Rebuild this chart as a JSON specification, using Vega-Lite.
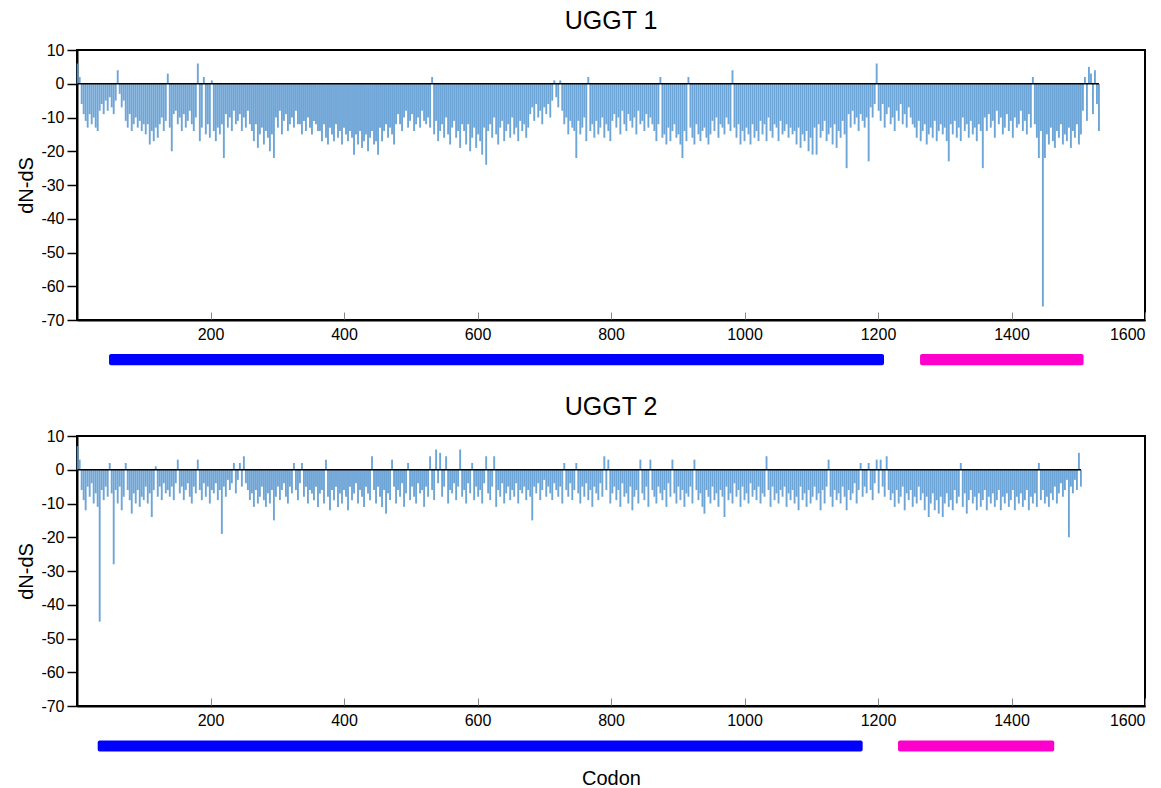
{
"$schema":"https://vega.github.io/schema/vega-lite/v6.json",
"background":"white",
"padding":{"left":15,"top":8,"right":12,"bottom":0},
"config":{"font":"Liberation Sans","view":{"stroke":"black","strokeWidth":2},"concat":{"spacing":27},
"axis":{"grid":false,"labelFont":"Liberation Sans","labelFontSize":16,"labelColor":"black","labelOverlap":false,"titleFont":"Liberation Sans","titleFontSize":20,"titleFontWeight":"normal","titleColor":"black","domainColor":"black","domainWidth":2},
"axisY":{"labelOverlap":false},
"title":{"font":"Liberation Sans","fontSize":25,"fontWeight":"normal","color":"black","offset":8}},
"datasets":{
"u1":[{"c":1,"v":6},{"c":4,"v":2},{"c":7,"v":-6},{"c":10,"v":-9},{"c":13,"v":-11},{"c":16,"v":-13},{"c":19,"v":-9},{"c":22,"v":-12},{"c":25,"v":-10},{"c":28,"v":-13},{"c":31,"v":-14},{"c":34,"v":-8},{"c":37,"v":-6},{"c":40,"v":-9},{"c":43,"v":-5},{"c":46,"v":-8},{"c":49,"v":-4},{"c":52,"v":-7},{"c":55,"v":-9},{"c":58,"v":-5},{"c":61,"v":4},{"c":64,"v":-3},{"c":67,"v":-7},{"c":70,"v":-5},{"c":73,"v":-11},{"c":76,"v":-13},{"c":79,"v":-9},{"c":82,"v":-14},{"c":85,"v":-12},{"c":88,"v":-10},{"c":91,"v":-13},{"c":94,"v":-11},{"c":97,"v":-14},{"c":100,"v":-12},{"c":103,"v":-15},{"c":106,"v":-12},{"c":109,"v":-18},{"c":112,"v":-14},{"c":115,"v":-17},{"c":118,"v":-13},{"c":121,"v":-16},{"c":124,"v":-12},{"c":127,"v":-10},{"c":130,"v":-14},{"c":133,"v":-11},{"c":136,"v":3},{"c":139,"v":-13},{"c":142,"v":-20},{"c":145,"v":-9},{"c":148,"v":-8},{"c":151,"v":-12},{"c":154,"v":-10},{"c":157,"v":-14},{"c":160,"v":-9},{"c":163,"v":-13},{"c":166,"v":-11},{"c":169,"v":-8},{"c":172,"v":-12},{"c":175,"v":-14},{"c":178,"v":-10},{"c":181,"v":6},{"c":184,"v":-17},{"c":187,"v":-13},{"c":190,"v":2},{"c":193,"v":-15},{"c":196,"v":-12},{"c":199,"v":-16},{"c":202,"v":1},{"c":205,"v":-14},{"c":208,"v":-17},{"c":211,"v":-13},{"c":214,"v":-15},{"c":217,"v":-12},{"c":220,"v":-22},{"c":223,"v":-9},{"c":226,"v":-13},{"c":229,"v":-10},{"c":232,"v":-14},{"c":235,"v":-8},{"c":238,"v":-12},{"c":241,"v":-11},{"c":244,"v":-9},{"c":247,"v":-14},{"c":250,"v":-10},{"c":253,"v":-13},{"c":256,"v":-8},{"c":259,"v":-12},{"c":262,"v":-14},{"c":265,"v":-17},{"c":268,"v":-12},{"c":271,"v":-19},{"c":274,"v":-15},{"c":277,"v":-13},{"c":280,"v":-18},{"c":283,"v":-14},{"c":286,"v":-16},{"c":289,"v":-20},{"c":292,"v":-15},{"c":295,"v":-22},{"c":298,"v":-10},{"c":301,"v":-13},{"c":304,"v":-8},{"c":307,"v":-15},{"c":310,"v":-11},{"c":313,"v":-9},{"c":316,"v":-14},{"c":319,"v":-12},{"c":322,"v":-10},{"c":325,"v":-13},{"c":328,"v":-8},{"c":331,"v":-12},{"c":334,"v":-12},{"c":337,"v":-15},{"c":340,"v":-11},{"c":343,"v":-14},{"c":346,"v":-10},{"c":349,"v":-13},{"c":352,"v":-15},{"c":355,"v":-11},{"c":358,"v":-12},{"c":361,"v":-14},{"c":364,"v":-14},{"c":367,"v":-17},{"c":370,"v":-12},{"c":373,"v":-16},{"c":376,"v":-18},{"c":379,"v":-13},{"c":382,"v":-15},{"c":385,"v":-17},{"c":388,"v":-12},{"c":391,"v":-16},{"c":394,"v":-14},{"c":397,"v":-18},{"c":400,"v":-13},{"c":403,"v":-15},{"c":406,"v":-17},{"c":409,"v":-14},{"c":412,"v":-16},{"c":415,"v":-21},{"c":418,"v":-15},{"c":421,"v":-18},{"c":424,"v":-14},{"c":427,"v":-19},{"c":430,"v":-17},{"c":433,"v":-15},{"c":436,"v":-20},{"c":439,"v":-16},{"c":442,"v":-14},{"c":445,"v":-18},{"c":448,"v":-17},{"c":451,"v":-21},{"c":454,"v":-13},{"c":457,"v":-17},{"c":460,"v":-14},{"c":463,"v":-12},{"c":466,"v":-16},{"c":469,"v":-13},{"c":472,"v":-15},{"c":475,"v":-18},{"c":478,"v":-12},{"c":481,"v":-9},{"c":484,"v":-12},{"c":487,"v":-14},{"c":490,"v":-10},{"c":493,"v":-8},{"c":496,"v":-13},{"c":499,"v":-11},{"c":502,"v":-9},{"c":505,"v":-14},{"c":508,"v":-12},{"c":511,"v":-10},{"c":514,"v":-13},{"c":517,"v":-8},{"c":520,"v":-11},{"c":523,"v":-12},{"c":526,"v":-10},{"c":529,"v":-13},{"c":532,"v":2},{"c":535,"v":-15},{"c":538,"v":-11},{"c":541,"v":-17},{"c":544,"v":-14},{"c":547,"v":-12},{"c":550,"v":-16},{"c":553,"v":-10},{"c":556,"v":-15},{"c":559,"v":-18},{"c":562,"v":-13},{"c":565,"v":-11},{"c":568,"v":-16},{"c":571,"v":-14},{"c":574,"v":-19},{"c":577,"v":-12},{"c":580,"v":-14},{"c":583,"v":-18},{"c":586,"v":-12},{"c":589,"v":-20},{"c":592,"v":-16},{"c":595,"v":-13},{"c":598,"v":-19},{"c":601,"v":-15},{"c":604,"v":-17},{"c":607,"v":-21},{"c":610,"v":-13},{"c":613,"v":-24},{"c":616,"v":-14},{"c":619,"v":-12},{"c":622,"v":-16},{"c":625,"v":-10},{"c":628,"v":-15},{"c":631,"v":-18},{"c":634,"v":-13},{"c":637,"v":-11},{"c":640,"v":-17},{"c":643,"v":-14},{"c":646,"v":-12},{"c":649,"v":-16},{"c":652,"v":-10},{"c":655,"v":-15},{"c":658,"v":-13},{"c":661,"v":-17},{"c":664,"v":-11},{"c":667,"v":-14},{"c":670,"v":-12},{"c":673,"v":-16},{"c":676,"v":-13},{"c":679,"v":-9},{"c":682,"v":-7},{"c":685,"v":-11},{"c":688,"v":-6},{"c":691,"v":-10},{"c":694,"v":-8},{"c":697,"v":-12},{"c":700,"v":-7},{"c":703,"v":-9},{"c":706,"v":-6},{"c":709,"v":-10},{"c":712,"v":-5},{"c":715,"v":1},{"c":718,"v":-4},{"c":721,"v":-7},{"c":724,"v":1},{"c":727,"v":-8},{"c":730,"v":-12},{"c":733,"v":-10},{"c":736,"v":-15},{"c":739,"v":-11},{"c":742,"v":-13},{"c":745,"v":-14},{"c":748,"v":-22},{"c":751,"v":-11},{"c":754,"v":-15},{"c":757,"v":-13},{"c":760,"v":-10},{"c":763,"v":-17},{"c":766,"v":2},{"c":769,"v":-14},{"c":772,"v":-12},{"c":775,"v":-16},{"c":778,"v":-11},{"c":781,"v":-15},{"c":784,"v":-13},{"c":787,"v":-10},{"c":790,"v":-16},{"c":793,"v":-12},{"c":796,"v":-14},{"c":799,"v":-17},{"c":802,"v":-11},{"c":805,"v":-9},{"c":808,"v":-13},{"c":811,"v":-10},{"c":814,"v":-15},{"c":817,"v":-8},{"c":820,"v":-12},{"c":823,"v":-14},{"c":826,"v":-9},{"c":829,"v":-11},{"c":832,"v":-13},{"c":835,"v":-10},{"c":838,"v":-15},{"c":841,"v":-8},{"c":844,"v":-12},{"c":847,"v":-11},{"c":850,"v":-14},{"c":853,"v":-9},{"c":856,"v":-13},{"c":859,"v":-10},{"c":862,"v":-12},{"c":865,"v":-14},{"c":868,"v":-17},{"c":871,"v":-12},{"c":874,"v":2},{"c":877,"v":-16},{"c":880,"v":-15},{"c":883,"v":-18},{"c":886,"v":-13},{"c":889,"v":-17},{"c":892,"v":-14},{"c":895,"v":-12},{"c":898,"v":-16},{"c":901,"v":-15},{"c":904,"v":-18},{"c":907,"v":-22},{"c":910,"v":-14},{"c":913,"v":-17},{"c":916,"v":2},{"c":919,"v":-13},{"c":922,"v":-16},{"c":925,"v":-18},{"c":928,"v":-12},{"c":931,"v":-15},{"c":934,"v":-17},{"c":937,"v":-14},{"c":940,"v":-13},{"c":943,"v":-16},{"c":946,"v":-18},{"c":949,"v":-15},{"c":952,"v":-11},{"c":955,"v":-14},{"c":958,"v":-10},{"c":961,"v":-16},{"c":964,"v":-12},{"c":967,"v":-13},{"c":970,"v":-15},{"c":973,"v":-10},{"c":976,"v":-12},{"c":979,"v":-14},{"c":982,"v":4},{"c":985,"v":-13},{"c":988,"v":-16},{"c":991,"v":-12},{"c":994,"v":-18},{"c":997,"v":-14},{"c":1000,"v":-17},{"c":1003,"v":-13},{"c":1006,"v":-15},{"c":1009,"v":-18},{"c":1012,"v":-12},{"c":1015,"v":-16},{"c":1018,"v":-14},{"c":1021,"v":-17},{"c":1024,"v":-11},{"c":1027,"v":-15},{"c":1030,"v":-12},{"c":1033,"v":-17},{"c":1036,"v":-10},{"c":1039,"v":-14},{"c":1042,"v":-16},{"c":1045,"v":-12},{"c":1048,"v":-13},{"c":1051,"v":-17},{"c":1054,"v":-11},{"c":1057,"v":-15},{"c":1060,"v":-14},{"c":1063,"v":-12},{"c":1066,"v":-16},{"c":1069,"v":-13},{"c":1072,"v":-15},{"c":1075,"v":-14},{"c":1078,"v":-18},{"c":1081,"v":-13},{"c":1084,"v":-19},{"c":1087,"v":-15},{"c":1090,"v":-17},{"c":1093,"v":-14},{"c":1096,"v":-20},{"c":1099,"v":-16},{"c":1102,"v":-21},{"c":1105,"v":-13},{"c":1108,"v":-21},{"c":1111,"v":-12},{"c":1114,"v":-16},{"c":1117,"v":-14},{"c":1120,"v":-11},{"c":1123,"v":-17},{"c":1126,"v":-15},{"c":1129,"v":-13},{"c":1132,"v":-18},{"c":1135,"v":-12},{"c":1138,"v":-19},{"c":1141,"v":-14},{"c":1144,"v":-16},{"c":1147,"v":-11},{"c":1150,"v":-15},{"c":1153,"v":-25},{"c":1156,"v":-9},{"c":1159,"v":-13},{"c":1162,"v":-8},{"c":1165,"v":-12},{"c":1168,"v":-10},{"c":1171,"v":-14},{"c":1174,"v":-9},{"c":1177,"v":-11},{"c":1180,"v":-13},{"c":1183,"v":-10},{"c":1186,"v":-23},{"c":1189,"v":-7},{"c":1192,"v":-10},{"c":1195,"v":-6},{"c":1198,"v":6},{"c":1201,"v":-8},{"c":1204,"v":-11},{"c":1207,"v":-6},{"c":1210,"v":-13},{"c":1213,"v":-9},{"c":1216,"v":-7},{"c":1219,"v":-12},{"c":1222,"v":-10},{"c":1225,"v":-14},{"c":1228,"v":-8},{"c":1231,"v":-11},{"c":1234,"v":-6},{"c":1237,"v":-12},{"c":1240,"v":-9},{"c":1243,"v":-13},{"c":1246,"v":-7},{"c":1249,"v":-10},{"c":1252,"v":-12},{"c":1255,"v":-13},{"c":1258,"v":-16},{"c":1261,"v":-11},{"c":1264,"v":-17},{"c":1267,"v":-14},{"c":1270,"v":-12},{"c":1273,"v":-18},{"c":1276,"v":-15},{"c":1279,"v":-13},{"c":1282,"v":-16},{"c":1285,"v":-11},{"c":1288,"v":-17},{"c":1291,"v":-14},{"c":1294,"v":-12},{"c":1297,"v":-15},{"c":1300,"v":-13},{"c":1303,"v":-17},{"c":1306,"v":-23},{"c":1309,"v":-12},{"c":1312,"v":-15},{"c":1315,"v":-11},{"c":1318,"v":-16},{"c":1321,"v":-13},{"c":1324,"v":-17},{"c":1327,"v":-10},{"c":1330,"v":-14},{"c":1333,"v":-12},{"c":1336,"v":-16},{"c":1339,"v":-11},{"c":1342,"v":-15},{"c":1345,"v":-13},{"c":1348,"v":-17},{"c":1351,"v":-12},{"c":1354,"v":-14},{"c":1357,"v":-25},{"c":1360,"v":-10},{"c":1363,"v":-14},{"c":1366,"v":-9},{"c":1369,"v":-13},{"c":1372,"v":-11},{"c":1375,"v":-16},{"c":1378,"v":-8},{"c":1381,"v":-12},{"c":1384,"v":-10},{"c":1387,"v":-15},{"c":1390,"v":-13},{"c":1393,"v":-9},{"c":1396,"v":-14},{"c":1399,"v":-11},{"c":1402,"v":-16},{"c":1405,"v":-10},{"c":1408,"v":-13},{"c":1411,"v":-12},{"c":1414,"v":-8},{"c":1417,"v":-14},{"c":1420,"v":-11},{"c":1423,"v":-15},{"c":1426,"v":-9},{"c":1429,"v":-13},{"c":1432,"v":2},{"c":1435,"v":-12},{"c":1438,"v":-16},{"c":1441,"v":-22},{"c":1444,"v":-14},{"c":1447,"v":-66},{"c":1450,"v":-22},{"c":1453,"v":-15},{"c":1456,"v":-18},{"c":1459,"v":-13},{"c":1462,"v":-17},{"c":1465,"v":-19},{"c":1468,"v":-14},{"c":1471,"v":-16},{"c":1474,"v":-12},{"c":1477,"v":-18},{"c":1480,"v":-15},{"c":1483,"v":-17},{"c":1486,"v":-13},{"c":1489,"v":-19},{"c":1492,"v":-14},{"c":1495,"v":-16},{"c":1498,"v":-12},{"c":1501,"v":-18},{"c":1504,"v":-15},{"c":1507,"v":-8},{"c":1510,"v":2},{"c":1513,"v":-11},{"c":1516,"v":5},{"c":1519,"v":3},{"c":1522,"v":-9},{"c":1525,"v":4},{"c":1528,"v":-6},{"c":1531,"v":-14}],
"u2":[{"c":1,"v":7},{"c":4,"v":3},{"c":7,"v":-6},{"c":10,"v":-9},{"c":13,"v":-12},{"c":16,"v":-5},{"c":19,"v":-8},{"c":22,"v":-4},{"c":25,"v":-10},{"c":28,"v":-7},{"c":31,"v":-11},{"c":34,"v":-45},{"c":37,"v":-6},{"c":40,"v":-9},{"c":43,"v":-5},{"c":46,"v":-8},{"c":49,"v":2},{"c":52,"v":-7},{"c":55,"v":-28},{"c":58,"v":-6},{"c":61,"v":-10},{"c":64,"v":-5},{"c":67,"v":-12},{"c":70,"v":-8},{"c":73,"v":2},{"c":76,"v":-6},{"c":79,"v":-9},{"c":82,"v":-13},{"c":85,"v":-7},{"c":88,"v":-10},{"c":91,"v":-6},{"c":94,"v":-11},{"c":97,"v":-8},{"c":100,"v":-9},{"c":103,"v":-5},{"c":106,"v":-10},{"c":109,"v":-7},{"c":112,"v":-14},{"c":115,"v":-6},{"c":118,"v":1},{"c":121,"v":-8},{"c":124,"v":-5},{"c":127,"v":-9},{"c":130,"v":-4},{"c":133,"v":-7},{"c":136,"v":-6},{"c":139,"v":-8},{"c":142,"v":-5},{"c":145,"v":-9},{"c":148,"v":-4},{"c":151,"v":3},{"c":154,"v":-7},{"c":157,"v":-5},{"c":160,"v":-9},{"c":163,"v":-6},{"c":166,"v":-4},{"c":169,"v":-8},{"c":172,"v":-10},{"c":175,"v":-5},{"c":178,"v":-7},{"c":181,"v":3},{"c":184,"v":-6},{"c":187,"v":-9},{"c":190,"v":-4},{"c":193,"v":-8},{"c":196,"v":-5},{"c":199,"v":-10},{"c":202,"v":-6},{"c":205,"v":-7},{"c":208,"v":-4},{"c":211,"v":-9},{"c":214,"v":-6},{"c":217,"v":-19},{"c":220,"v":-5},{"c":223,"v":-8},{"c":226,"v":-3},{"c":229,"v":-6},{"c":232,"v":-4},{"c":235,"v":2},{"c":238,"v":-7},{"c":241,"v":-3},{"c":244,"v":2},{"c":247,"v":-5},{"c":250,"v":4},{"c":253,"v":-4},{"c":256,"v":-6},{"c":259,"v":-9},{"c":262,"v":-7},{"c":265,"v":-11},{"c":268,"v":-6},{"c":271,"v":-10},{"c":274,"v":-8},{"c":277,"v":-5},{"c":280,"v":-9},{"c":283,"v":-11},{"c":286,"v":-7},{"c":289,"v":-10},{"c":292,"v":-6},{"c":295,"v":-15},{"c":298,"v":-8},{"c":301,"v":-5},{"c":304,"v":-9},{"c":307,"v":-6},{"c":310,"v":-4},{"c":313,"v":-8},{"c":316,"v":-10},{"c":319,"v":-5},{"c":322,"v":-7},{"c":325,"v":2},{"c":328,"v":-6},{"c":331,"v":-9},{"c":334,"v":-4},{"c":337,"v":2},{"c":340,"v":-8},{"c":343,"v":-5},{"c":346,"v":-10},{"c":349,"v":-6},{"c":352,"v":-7},{"c":355,"v":-9},{"c":358,"v":-5},{"c":361,"v":-11},{"c":364,"v":-7},{"c":367,"v":-6},{"c":370,"v":-10},{"c":373,"v":3},{"c":376,"v":-8},{"c":379,"v":-12},{"c":382,"v":-6},{"c":385,"v":-9},{"c":388,"v":-5},{"c":391,"v":-11},{"c":394,"v":-7},{"c":397,"v":-10},{"c":400,"v":-6},{"c":403,"v":-8},{"c":406,"v":-12},{"c":409,"v":-5},{"c":412,"v":-9},{"c":415,"v":-7},{"c":418,"v":-4},{"c":421,"v":-10},{"c":424,"v":-6},{"c":427,"v":-8},{"c":430,"v":-11},{"c":433,"v":-5},{"c":436,"v":-7},{"c":439,"v":-9},{"c":442,"v":4},{"c":445,"v":-6},{"c":448,"v":-10},{"c":451,"v":-5},{"c":454,"v":-8},{"c":457,"v":-11},{"c":460,"v":-6},{"c":463,"v":-13},{"c":466,"v":-7},{"c":469,"v":-9},{"c":472,"v":3},{"c":475,"v":-5},{"c":478,"v":-10},{"c":481,"v":-6},{"c":484,"v":-8},{"c":487,"v":-4},{"c":490,"v":-11},{"c":493,"v":-7},{"c":496,"v":2},{"c":499,"v":-9},{"c":502,"v":-5},{"c":505,"v":-8},{"c":508,"v":-10},{"c":511,"v":-4},{"c":514,"v":-7},{"c":517,"v":-6},{"c":520,"v":-11},{"c":523,"v":-5},{"c":526,"v":-8},{"c":529,"v":4},{"c":532,"v":-6},{"c":535,"v":-9},{"c":538,"v":6},{"c":541,"v":-4},{"c":544,"v":5},{"c":547,"v":-8},{"c":550,"v":-5},{"c":553,"v":4},{"c":556,"v":-10},{"c":559,"v":-6},{"c":562,"v":-7},{"c":565,"v":-4},{"c":568,"v":-9},{"c":571,"v":-5},{"c":574,"v":6},{"c":577,"v":-8},{"c":580,"v":-6},{"c":583,"v":-10},{"c":586,"v":-4},{"c":589,"v":-7},{"c":592,"v":2},{"c":595,"v":-9},{"c":598,"v":-5},{"c":601,"v":-8},{"c":604,"v":-6},{"c":607,"v":-10},{"c":610,"v":-4},{"c":613,"v":4},{"c":616,"v":-7},{"c":619,"v":-9},{"c":622,"v":-5},{"c":625,"v":4},{"c":628,"v":-11},{"c":631,"v":-6},{"c":634,"v":-8},{"c":637,"v":-4},{"c":640,"v":-10},{"c":643,"v":-7},{"c":646,"v":-5},{"c":649,"v":-9},{"c":652,"v":-6},{"c":655,"v":-8},{"c":658,"v":-4},{"c":661,"v":-10},{"c":664,"v":-6},{"c":667,"v":-7},{"c":670,"v":-5},{"c":673,"v":-9},{"c":676,"v":-6},{"c":679,"v":-8},{"c":682,"v":-15},{"c":685,"v":-5},{"c":688,"v":-7},{"c":691,"v":-4},{"c":694,"v":-9},{"c":697,"v":-6},{"c":700,"v":-3},{"c":703,"v":-8},{"c":706,"v":-5},{"c":709,"v":-7},{"c":712,"v":-9},{"c":715,"v":-4},{"c":718,"v":-6},{"c":721,"v":-8},{"c":724,"v":-5},{"c":727,"v":-10},{"c":730,"v":2},{"c":733,"v":-6},{"c":736,"v":-8},{"c":739,"v":-4},{"c":742,"v":-9},{"c":745,"v":-6},{"c":748,"v":2},{"c":751,"v":-7},{"c":754,"v":-10},{"c":757,"v":-5},{"c":760,"v":-8},{"c":763,"v":-4},{"c":766,"v":-9},{"c":769,"v":-6},{"c":772,"v":-11},{"c":775,"v":-5},{"c":778,"v":-7},{"c":781,"v":-9},{"c":784,"v":-4},{"c":787,"v":-8},{"c":790,"v":4},{"c":793,"v":-6},{"c":796,"v":3},{"c":799,"v":-10},{"c":802,"v":-7},{"c":805,"v":-5},{"c":808,"v":-9},{"c":811,"v":-6},{"c":814,"v":-11},{"c":817,"v":-4},{"c":820,"v":-8},{"c":823,"v":-7},{"c":826,"v":-10},{"c":829,"v":-5},{"c":832,"v":-12},{"c":835,"v":-8},{"c":838,"v":-6},{"c":841,"v":-10},{"c":844,"v":3},{"c":847,"v":-7},{"c":850,"v":-9},{"c":853,"v":-5},{"c":856,"v":-11},{"c":859,"v":3},{"c":862,"v":-6},{"c":865,"v":-8},{"c":868,"v":-10},{"c":871,"v":-5},{"c":874,"v":-7},{"c":877,"v":-9},{"c":880,"v":-6},{"c":883,"v":-11},{"c":886,"v":-4},{"c":889,"v":-8},{"c":892,"v":3},{"c":895,"v":-7},{"c":898,"v":-10},{"c":901,"v":-5},{"c":904,"v":-9},{"c":907,"v":-6},{"c":910,"v":-11},{"c":913,"v":-7},{"c":916,"v":-8},{"c":919,"v":-5},{"c":922,"v":-10},{"c":925,"v":3},{"c":928,"v":-6},{"c":931,"v":-9},{"c":934,"v":-7},{"c":937,"v":-11},{"c":940,"v":-13},{"c":943,"v":-6},{"c":946,"v":-8},{"c":949,"v":-10},{"c":952,"v":-5},{"c":955,"v":-9},{"c":958,"v":-7},{"c":961,"v":-11},{"c":964,"v":-6},{"c":967,"v":-8},{"c":970,"v":-14},{"c":973,"v":-5},{"c":976,"v":-9},{"c":979,"v":-7},{"c":982,"v":-10},{"c":985,"v":-4},{"c":988,"v":-8},{"c":991,"v":-6},{"c":994,"v":-11},{"c":997,"v":-5},{"c":1000,"v":-9},{"c":1003,"v":-7},{"c":1006,"v":-10},{"c":1009,"v":-4},{"c":1012,"v":-8},{"c":1015,"v":-6},{"c":1018,"v":-9},{"c":1021,"v":-5},{"c":1024,"v":-10},{"c":1027,"v":-7},{"c":1030,"v":-8},{"c":1033,"v":4},{"c":1036,"v":-6},{"c":1039,"v":-11},{"c":1042,"v":-5},{"c":1045,"v":-9},{"c":1048,"v":-7},{"c":1051,"v":-10},{"c":1054,"v":-6},{"c":1057,"v":-8},{"c":1060,"v":-5},{"c":1063,"v":-11},{"c":1066,"v":-7},{"c":1069,"v":-9},{"c":1072,"v":-6},{"c":1075,"v":-10},{"c":1078,"v":-8},{"c":1081,"v":-12},{"c":1084,"v":-5},{"c":1087,"v":-9},{"c":1090,"v":-7},{"c":1093,"v":-11},{"c":1096,"v":-6},{"c":1099,"v":-10},{"c":1102,"v":-8},{"c":1105,"v":-5},{"c":1108,"v":-9},{"c":1111,"v":-7},{"c":1114,"v":-12},{"c":1117,"v":-6},{"c":1120,"v":-10},{"c":1123,"v":-5},{"c":1126,"v":3},{"c":1129,"v":-8},{"c":1132,"v":-11},{"c":1135,"v":-6},{"c":1138,"v":-9},{"c":1141,"v":-7},{"c":1144,"v":-10},{"c":1147,"v":-5},{"c":1150,"v":-8},{"c":1153,"v":-12},{"c":1156,"v":-6},{"c":1159,"v":-9},{"c":1162,"v":-7},{"c":1165,"v":-4},{"c":1168,"v":-10},{"c":1171,"v":-6},{"c":1174,"v":2},{"c":1177,"v":-8},{"c":1180,"v":-5},{"c":1183,"v":-7},{"c":1186,"v":2},{"c":1189,"v":-6},{"c":1192,"v":-9},{"c":1195,"v":-4},{"c":1198,"v":3},{"c":1201,"v":-7},{"c":1204,"v":3},{"c":1207,"v":-5},{"c":1210,"v":-8},{"c":1213,"v":4},{"c":1216,"v":-6},{"c":1219,"v":-9},{"c":1222,"v":-7},{"c":1225,"v":-11},{"c":1228,"v":-6},{"c":1231,"v":-10},{"c":1234,"v":-8},{"c":1237,"v":-5},{"c":1240,"v":-12},{"c":1243,"v":-7},{"c":1246,"v":-9},{"c":1249,"v":-6},{"c":1252,"v":-11},{"c":1255,"v":-8},{"c":1258,"v":-10},{"c":1261,"v":-5},{"c":1264,"v":-9},{"c":1267,"v":-7},{"c":1270,"v":-12},{"c":1273,"v":-8},{"c":1276,"v":-14},{"c":1279,"v":-10},{"c":1282,"v":-7},{"c":1285,"v":-12},{"c":1288,"v":-9},{"c":1291,"v":-13},{"c":1294,"v":-8},{"c":1297,"v":-14},{"c":1300,"v":-10},{"c":1303,"v":-7},{"c":1306,"v":-11},{"c":1309,"v":-9},{"c":1312,"v":-12},{"c":1315,"v":-6},{"c":1318,"v":-10},{"c":1321,"v":-8},{"c":1324,"v":2},{"c":1327,"v":-11},{"c":1330,"v":-7},{"c":1333,"v":-13},{"c":1336,"v":-9},{"c":1339,"v":-6},{"c":1342,"v":-10},{"c":1345,"v":-8},{"c":1348,"v":-12},{"c":1351,"v":-7},{"c":1354,"v":-11},{"c":1357,"v":-9},{"c":1360,"v":-6},{"c":1363,"v":-12},{"c":1366,"v":-8},{"c":1369,"v":-10},{"c":1372,"v":-7},{"c":1375,"v":-11},{"c":1378,"v":-9},{"c":1381,"v":-6},{"c":1384,"v":-12},{"c":1387,"v":-8},{"c":1390,"v":-10},{"c":1393,"v":-7},{"c":1396,"v":-11},{"c":1399,"v":-9},{"c":1402,"v":-6},{"c":1405,"v":-12},{"c":1408,"v":-8},{"c":1411,"v":-10},{"c":1414,"v":-7},{"c":1417,"v":-11},{"c":1420,"v":-9},{"c":1423,"v":-6},{"c":1426,"v":-12},{"c":1429,"v":-8},{"c":1432,"v":-10},{"c":1435,"v":-7},{"c":1438,"v":-11},{"c":1441,"v":2},{"c":1444,"v":-9},{"c":1447,"v":-6},{"c":1450,"v":-10},{"c":1453,"v":-8},{"c":1456,"v":-11},{"c":1459,"v":-7},{"c":1462,"v":-9},{"c":1465,"v":-5},{"c":1468,"v":-10},{"c":1471,"v":-7},{"c":1474,"v":-4},{"c":1477,"v":-8},{"c":1480,"v":-6},{"c":1483,"v":-3},{"c":1486,"v":-20},{"c":1489,"v":-5},{"c":1492,"v":-7},{"c":1495,"v":-3},{"c":1498,"v":-6},{"c":1501,"v":5},{"c":1504,"v":-5}],
"d1":[{"s":48,"e":1209,"dom":"Folding sensor"},{"s":1263,"e":1508,"dom":"Glucosyltransferase"}],
"d2":[{"s":31,"e":1177,"dom":"Folding sensor"},{"s":1230,"e":1464,"dom":"Glucosyltransferase"}]
},
"vconcat":[
{"title":{"text":"UGGT 1"},"width":1068,"height":270,
"layer":[
{"data":{"name":"u1"},"mark":{"type":"rule","stroke":"#5a98d2","strokeWidth":1.9,"opacity":0.88},
"encoding":{"x":{"field":"c","type":"quantitative","title":null,"scale":{"domain":[0,1600],"nice":false,"zero":false},"axis":{"values":[200,400,600,800,1000,1200,1400,1600],"labelExpr":"'' + datum.value","labelFontSize":16,"labelOverlap":false,"tickColor":"#888888","tickSize":-8,"labelPadding":14}},
"y":{"field":"v","type":"quantitative","title":"dN-dS","scale":{"domain":[-70,10],"nice":false},"axis":{"values":[10,0,-10,-20,-30,-40,-50,-60,-70],"labelExpr":"'' + datum.value","labelFontSize":16,"labelOverlap":false,"labelBound":false,"tickColor":"black","tickSize":10,"tickWidth":1.5,"labelPadding":3,"titlePadding":4,"titleFontSize":20}},
"y2":{"datum":0}}},
{"data":{"name":"u1"},"mark":{"type":"rule","color":"black","strokeWidth":1.6},
"encoding":{"x":{"aggregate":"min","field":"c","type":"quantitative","title":null,"scale":{"domain":[0,1600]},"axis":{"values":[200,400,600,800,1000,1200,1400,1600],"labelExpr":"'' + datum.value","labelFontSize":16,"labelOverlap":false,"tickColor":"#888888","tickSize":-8,"labelPadding":14}},"x2":{"aggregate":"max","field":"c"},"y":{"datum":0,"type":"quantitative","title":"dN-dS","scale":{"domain":[-70,10]},"axis":{"values":[10,0,-10,-20,-30,-40,-50,-60,-70],"labelExpr":"'' + datum.value","labelFontSize":16,"labelOverlap":false,"labelBound":false,"tickColor":"black","tickSize":10,"tickWidth":1.5,"labelPadding":3,"titlePadding":4,"titleFontSize":20}}}},
{"data":{"name":"d1"},"mark":{"type":"rect","cornerRadius":2},
"encoding":{"x":{"field":"s","type":"quantitative","title":null,"scale":{"domain":[0,1600]},"axis":{"values":[200,400,600,800,1000,1200,1400,1600],"labelExpr":"'' + datum.value","labelFontSize":16,"labelOverlap":false,"tickColor":"#888888","tickSize":-8,"labelPadding":14}},"x2":{"field":"e"},"y":{"datum":-80.1,"type":"quantitative","title":"dN-dS","scale":{"domain":[-70,10]},"axis":{"values":[10,0,-10,-20,-30,-40,-50,-60,-70],"labelExpr":"'' + datum.value","labelFontSize":16,"labelOverlap":false,"labelBound":false,"tickColor":"black","tickSize":10,"tickWidth":1.5,"labelPadding":3,"titlePadding":4,"titleFontSize":20}},"y2":{"datum":-83.4},
"color":{"field":"dom","type":"nominal","scale":{"domain":["Folding sensor","Glucosyltransferase"],"range":["#0000ff","#ff00cc"]},"legend":null}}}
]},
{"title":{"text":"UGGT 2"},"width":1068,"height":270,
"layer":[
{"data":{"name":"u2"},"mark":{"type":"rule","stroke":"#5a98d2","strokeWidth":1.9,"opacity":0.88},
"encoding":{"x":{"field":"c","type":"quantitative","title":"Codon","scale":{"domain":[0,1600],"nice":false,"zero":false},"axis":{"values":[200,400,600,800,1000,1200,1400,1600],"labelExpr":"'' + datum.value","labelFontSize":16,"labelOverlap":false,"tickColor":"#888888","tickSize":-8,"labelPadding":14,"titlePadding":40,"titleFontSize":20}},
"y":{"field":"v","type":"quantitative","title":"dN-dS","scale":{"domain":[-70,10],"nice":false},"axis":{"values":[10,0,-10,-20,-30,-40,-50,-60,-70],"labelExpr":"'' + datum.value","labelFontSize":16,"labelOverlap":false,"labelBound":false,"tickColor":"black","tickSize":10,"tickWidth":1.5,"labelPadding":3,"titlePadding":4,"titleFontSize":20}},
"y2":{"datum":0}}},
{"data":{"name":"u2"},"mark":{"type":"rule","color":"black","strokeWidth":1.6},
"encoding":{"x":{"aggregate":"min","field":"c","type":"quantitative","title":"Codon","scale":{"domain":[0,1600]},"axis":{"values":[200,400,600,800,1000,1200,1400,1600],"labelExpr":"'' + datum.value","labelFontSize":16,"labelOverlap":false,"tickColor":"#888888","tickSize":-8,"labelPadding":14,"titlePadding":40,"titleFontSize":20}},"x2":{"aggregate":"max","field":"c"},"y":{"datum":0,"type":"quantitative","title":"dN-dS","scale":{"domain":[-70,10]},"axis":{"values":[10,0,-10,-20,-30,-40,-50,-60,-70],"labelExpr":"'' + datum.value","labelFontSize":16,"labelOverlap":false,"labelBound":false,"tickColor":"black","tickSize":10,"tickWidth":1.5,"labelPadding":3,"titlePadding":4,"titleFontSize":20}}}},
{"data":{"name":"d2"},"mark":{"type":"rect","cornerRadius":2},
"encoding":{"x":{"field":"s","type":"quantitative","title":"Codon","scale":{"domain":[0,1600]},"axis":{"values":[200,400,600,800,1000,1200,1400,1600],"labelExpr":"'' + datum.value","labelFontSize":16,"labelOverlap":false,"tickColor":"#888888","tickSize":-8,"labelPadding":14,"titlePadding":40,"titleFontSize":20}},"x2":{"field":"e"},"y":{"datum":-80.2,"type":"quantitative","title":"dN-dS","scale":{"domain":[-70,10]},"axis":{"values":[10,0,-10,-20,-30,-40,-50,-60,-70],"labelExpr":"'' + datum.value","labelFontSize":16,"labelOverlap":false,"labelBound":false,"tickColor":"black","tickSize":10,"tickWidth":1.5,"labelPadding":3,"titlePadding":4,"titleFontSize":20}},"y2":{"datum":-83.5},
"color":{"field":"dom","type":"nominal","scale":{"domain":["Folding sensor","Glucosyltransferase"],"range":["#0000ff","#ff00cc"]},"legend":null}}}
]}
]
}
